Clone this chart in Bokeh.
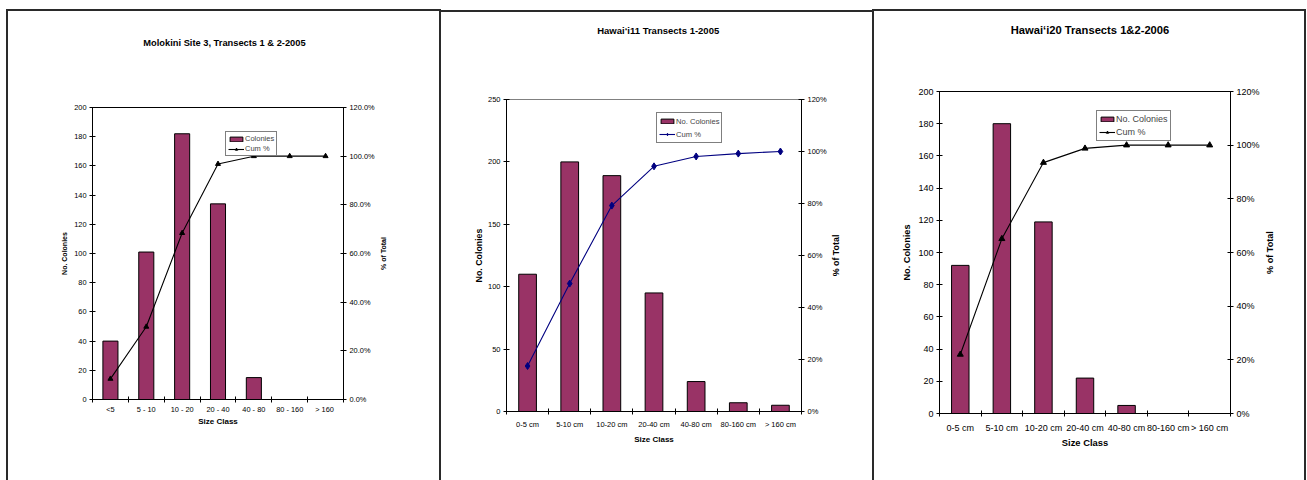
import math
from bokeh.plotting import figure
from bokeh.models import (Range1d, LinearAxis, FixedTicker, SingleIntervalTicker,
                          PrintfTickFormatter, Legend, LegendItem, ColumnDataSource, Label)
from bokeh.embed import file_html
from bokeh.resources import INLINE

FONT = "Liberation Sans"
BAR_COLOR = "#993366"

# ---------------- data ----------------
titles = ["Molokini Site 3, Transects 1 & 2-2005",
          "Hawai\u2018i11 Transects 1-2005",
          "Hawai\u2018i20 Transects 1&2-2006"]

size_classes_1 = ["<5", "5 - 10", "10 - 20", "20 - 40", "40 - 80", "80 - 160", ">  160"]
colonies_1 = [40, 101, 182, 134, 15, 0, 0]
cum_pct_1 = [8.5, 29.9, 68.4, 96.8, 100.0, 100.0, 100.0]

size_classes_2 = ["0-5 cm", "5-10 cm", "10-20 cm", "20-40 cm", "40-80 cm", "80-160 cm", "> 160 cm"]
colonies_2 = [110, 200, 189, 95, 24, 7, 5]
cum_pct_2 = [17.5, 49.2, 79.2, 94.3, 98.1, 99.2, 100.0]

size_classes_3 = ["0-5 cm", "5-10 cm", "10-20 cm", "20-40 cm", "40-80 cm", "80-160 cm", "> 160 cm"]
colonies_3 = [92, 180, 119, 22, 5, 0, 0]
cum_pct_3 = [22.0, 65.1, 93.5, 98.8, 100.0, 100.0, 100.0]

bar_labels = ["Colonies", "No. Colonies", "No. Colonies"]
line_label = "Cum %"
y_label = "No. Colonies"
y2_label = "% of Total"
x_label = "Size Class"


def style_label(ax, size):
    ax.axis_label_text_font = FONT
    ax.axis_label_text_font_size = f"{size}px"
    ax.axis_label_text_font_style = "bold"
    ax.axis_label_text_color = "black"


def make_panel(name, cats, bars, cum, title, bar_label, cfg):
    n = len(cats)
    xs = [i + 0.5 for i in range(n)]
    l, r, t, b = cfg["borders"]
    p = figure(name=name, width=cfg["w"], height=480, output_backend="svg",
               toolbar_location=None,
               x_range=Range1d(0, n), y_range=Range1d(0, cfg["ymax"]),
               min_border_left=l, min_border_right=r, min_border_top=t, min_border_bottom=b,
               background_fill_color="white", border_fill_color="white")
    p.title.visible = False
    p.xgrid.visible = False
    p.ygrid.visible = False
    p.outline_line_color = cfg["outline"]
    p.outline_line_width = 1
    p.extra_y_ranges = {"pct": Range1d(0, 120)}

    src = ColumnDataSource(dict(x=xs, n=bars, cum=cum))
    vb = p.vbar(x="x", top="n", width=0.42, source=src, fill_color=BAR_COLOR,
                line_color="black", line_width=1)
    ln = p.line(x="x", y="cum", source=src, y_range_name="pct",
                line_color=cfg["lc"], line_width=1.1)
    sc = p.scatter(x="x", y="cum", source=src, y_range_name="pct", marker=cfg["marker"],
                   size=cfg["msize"], fill_color=cfg["lc"], line_color=cfg["lc"])

    fs = cfg["tick_fs"]
    # x axis
    xa = p.xaxis[0]
    xa.ticker = FixedTicker(ticks=xs, minor_ticks=list(range(n + 1)))
    xa.major_label_overrides = {x: c for x, c in zip(xs, cats)}
    xa.minor_tick_in = 3
    xa.minor_tick_out = 3
    xa.minor_tick_line_color = "black"
    xa.major_tick_line_color = None
    xa.major_tick_in = 0
    xa.major_tick_out = 0
    xa.major_label_standoff = cfg["xstand"]
    xa.axis_label = x_label
    xa.axis_label_standoff = cfg["xl_stand"]
    style_label(xa, cfg["xl_fs"])
    # left axis
    ya = p.yaxis[0]
    ya.ticker = SingleIntervalTicker(interval=cfg["yint"], num_minor_ticks=0)
    ya.axis_label = y_label
    ya.axis_label_standoff = cfg["yl_stand"]
    style_label(ya, cfg["yl_fs"])
    # right axis
    ra = LinearAxis(y_range_name="pct",
                    ticker=SingleIntervalTicker(interval=20, num_minor_ticks=0),
                    formatter=PrintfTickFormatter(format=cfg["pfmt"]))
    p.add_layout(ra, "right")
    for ax in (ya, ra):
        ax.major_tick_line_color = "black"
        ax.major_tick_in = 3
        ax.major_tick_out = 3
        ax.minor_tick_line_color = None
        ax.major_label_standoff = 3
    for ax in (xa, ya, ra):
        ax.axis_line_color = "black"
        ax.axis_line_width = 1
        ax.major_label_text_font = FONT
        ax.major_label_text_font_size = f"{fs}px"
        ax.major_label_text_color = "black"

    # right-hand axis title, reading bottom to top, in the right side panel
    rx, ry = cfg["y2l_at"]
    p.add_layout(Label(x=rx, y=ry, y_range_name="pct", text=y2_label, angle=math.pi / 2,
                       text_align="center", text_baseline="middle",
                       text_font=FONT, text_font_size=f"{cfg['y2l_fs']}px",
                       text_font_style="bold", text_color="black"), "right")

    # chart title in the panel above the frame
    tx, ty = cfg["title_at"]
    p.add_layout(Label(x=tx, y=ty, text=title, text_align="center", text_baseline="middle",
                       text_font=FONT, text_font_size=f"{cfg['title_fs']}px",
                       text_font_style="bold", text_color="black"), "above")

    legend = Legend(items=[LegendItem(label=bar_label, renderers=[vb]),
                           LegendItem(label=line_label, renderers=[ln, sc])],
                    location=cfg["legloc"], orientation="vertical",
                    border_line_color="black", border_line_width=1,
                    background_fill_color="white", background_fill_alpha=1,
                    padding=2, spacing=1, margin=0,
                    glyph_width=16, glyph_height=6, label_height=cfg["gh"],
                    label_standoff=1,
                    label_text_font=FONT, label_text_font_size=f"{cfg['leg_fs']}px")
    p.add_layout(legend)
    return p


cfg1 = dict(w=440, borders=(92, 97, 107, 81), ymax=200, yint=20, pfmt="%.1f%%",
            outline="black", lc="black", marker="triangle", msize=5,
            tick_fs=7.4, xstand=2, legloc=(133, 243), gh=9, leg_fs=7.5,
            title_fs=9.3, title_at=(3.681, 244.5), yl_fs=7, yl_stand=3,
            y2l_fs=7, y2l_at=(8.116, 60), xl_fs=8, xl_stand=0)
cfg2 = dict(w=432, borders=(66, 71, 99, 69), ymax=250, yint=50, pfmt="%d%%",
            outline="#808080", lc="#000080", marker="diamond", msize=7,
            tick_fs=7.5, xstand=5, legloc=(150, 268), gh=12, leg_fs=7.6,
            title_fs=9.5, title_at=(3.6, 305.3), yl_fs=8.8, yl_stand=1,
            y2l_fs=8.9, y2l_at=(7.814, 60), xl_fs=8, xl_stand=3)
cfg3 = dict(w=435, borders=(67, 77, 91, 67), ymax=200, yint=20, pfmt="%d%%",
            outline="black", lc="black", marker="triangle", msize=6,
            tick_fs=9, xstand=6, legloc=(157, 272), gh=12, leg_fs=9,
            title_fs=11.2, title_at=(3.62, 237.9), yl_fs=9.2, yl_stand=3,
            y2l_fs=9.1, y2l_at=(7.962, 60), xl_fs=9.4, xl_stand=1)

p1 = make_panel("p1", size_classes_1, colonies_1, cum_pct_1, titles[0], bar_labels[0], cfg1)
p2 = make_panel("p2", size_classes_2, colonies_2, cum_pct_2, titles[1], bar_labels[1], cfg2)
p3 = make_panel("p3", size_classes_3, colonies_3, cum_pct_3, titles[2], bar_labels[2], cfg3)

# Bokeh prepends "{% extends base %}" to a template given as a string.
TEMPLATE = """
{% block postamble %}
<style>
  #wrap { position: relative; width: 1307px; height: 480px; overflow: hidden; background: white; }
  .cell { position: absolute; top: 0px; }
  .box { position: absolute; box-sizing: border-box; height: 600px; border: 2px solid #2a2a2a;
         border-bottom: none; pointer-events: none; z-index: 10; }
</style>
{% endblock %}
{% block contents %}
<div id="wrap">
  <div class="cell" style="left:0px">{{ embed(roots[0]) }}</div>
  <div class="cell" style="left:440px">{{ embed(roots[1]) }}</div>
  <div class="cell" style="left:872px">{{ embed(roots[2]) }}</div>
  <div class="box" style="left:6px; top:9px; width:435px;"></div>
  <div class="box" style="left:439px; top:10px; width:435px;"></div>
  <div class="box" style="left:872px; top:9px; width:434px;"></div>
</div>
{% endblock %}
"""

open("out.html", "w").write(file_html([p1, p2, p3], INLINE, template=TEMPLATE))
